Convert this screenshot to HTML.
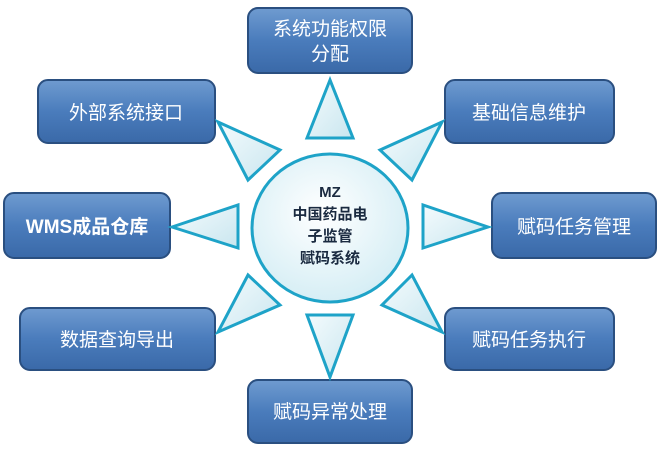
<!DOCTYPE html>
<html><head><meta charset="utf-8"><style>
body{margin:0;background:#fff;width:661px;height:453px;overflow:hidden}
svg{display:block}
text{font-family:"Liberation Sans","Noto Sans CJK SC",sans-serif}
</style></head><body>
<svg width="661" height="453" viewBox="0 0 661 453">
<defs>
<linearGradient id="bx" x1="0" y1="0" x2="0" y2="1">
<stop offset="0" stop-color="#6f9bd0"/><stop offset="0.5" stop-color="#4a7cbc"/><stop offset="1" stop-color="#3a69a8"/>
</linearGradient>
<radialGradient id="cg" cx="0.45" cy="0.4" r="0.6">
<stop offset="0" stop-color="#ffffff"/><stop offset="1" stop-color="#d6eef5"/>
</radialGradient>
<linearGradient id="tg" x1="0" y1="0" x2="1" y2="1">
<stop offset="0" stop-color="#f4fbfd"/><stop offset="1" stop-color="#c9e6ef"/>
</linearGradient>
</defs>
<g stroke="#2a4f80" stroke-width="2" fill="url(#bx)">
<rect x="248" y="8" width="164" height="65" rx="10"/>
<rect x="38" y="80" width="177" height="63" rx="10"/>
<rect x="445" y="80" width="169" height="63" rx="10"/>
<rect x="4" y="193" width="166" height="65" rx="10"/>
<rect x="492" y="193" width="164" height="65" rx="10"/>
<rect x="20" y="308" width="195" height="62" rx="10"/>
<rect x="445" y="308" width="169" height="62" rx="10"/>
<rect x="248" y="380" width="164" height="63" rx="10"/>
</g>
<g stroke="#1ea3c8" stroke-width="3" fill="url(#tg)" stroke-linejoin="miter">
<polygon points="330,80 307,138 353,138"/>
<polygon points="218,122 280,150 248,180"/>
<polygon points="442,122 380,150 412,180"/>
<polygon points="172,227 238,205 238,248"/>
<polygon points="488,227 423,205 423,248"/>
<polygon points="248,275 280,305 218,332"/>
<polygon points="412,275 382,305 442,332"/>
<polygon points="307,315 353,315 330,377"/>
</g>
<ellipse cx="330" cy="228" rx="78" ry="74" fill="url(#cg)" stroke="#1ea3c8" stroke-width="3"/>
<g fill="#fff" font-size="19" text-anchor="middle">
<text x="330" y="35">系统功能权限</text>
<text x="330" y="60">分配</text>
<text x="126" y="119">外部系统接口</text>
<text x="529" y="119">基础信息维护</text>
<text x="87" y="233" font-weight="bold">WMS成品仓库</text>
<text x="574" y="233">赋码任务管理</text>
<text x="117" y="346">数据查询导出</text>
<text x="529" y="346">赋码任务执行</text>
<text x="330" y="418">赋码异常处理</text>
</g>
<g fill="#1a2a40" font-size="15" font-weight="bold" text-anchor="middle">
<text x="330" y="197">MZ</text>
<text x="330" y="219">中国药品电</text>
<text x="330" y="241">子监管</text>
<text x="330" y="263">赋码系统</text>
</g>
</svg>
</body></html>
